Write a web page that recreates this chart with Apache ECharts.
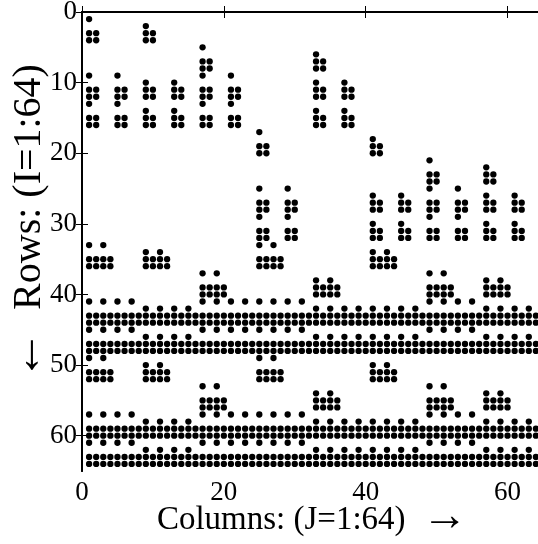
<!DOCTYPE html>
<html><head><meta charset="utf-8">
<script src="https://cdn.jsdelivr.net/npm/echarts@6/dist/echarts.min.js"></script>
<style>html,body{margin:0;padding:0;background:#fff;}#c{width:538px;height:544px;}</style>
</head><body><div id="c"></div>
<script>
// Tick labels
const xTicks = [0, 20, 40, 60];
const yTicks = [0, 10, 20, 30, 40, 50, 60];

// Rows that share the same set of nonzero columns (row indices I)
const rowGroups = [
  [1], [2], [3, 4],
  [5], [6], [7, 8],
  [9, 13], [10, 14], [11, 12, 15, 16],
  [17], [18], [19, 20],
  [21], [22], [23, 24],
  [25, 29], [26, 30], [27, 28, 31, 32],
  [33, 49], [34, 50], [35, 36, 51, 52],
  [37, 53], [38, 54], [39, 40, 55, 56],
  [41, 45, 57, 61], [42, 46, 58, 62],
  [43, 44, 47, 48, 59, 60, 63, 64]
];
// Nonzero columns (J) for each row group above
const colGroups = [
  [1], [9], [1, 2, 9, 10],
  [17], [33], [17, 18, 33, 34],
  [1, 5, 17, 21], [9, 13, 33, 37], [1, 2, 5, 6, 9, 10, 13, 14, 17, 18, 21, 22, 33, 34, 37, 38],
  [25], [41], [25, 26, 41, 42],
  [49], [57], [49, 50, 57, 58],
  [25, 29, 49, 53], [41, 45, 57, 61], [25, 26, 29, 30, 41, 42, 45, 46, 49, 50, 53, 54, 57, 58, 61, 62],
  [1, 3, 25, 27], [9, 11, 41, 43], [1, 2, 3, 4, 9, 10, 11, 12, 25, 26, 27, 28, 41, 42, 43, 44],
  [17, 19, 49, 51], [33, 35, 57, 59], [17, 18, 19, 20, 33, 34, 35, 36, 49, 50, 51, 52, 57, 58, 59, 60],
  [1, 3, 5, 7, 17, 19, 21, 23, 25, 27, 29, 31, 49, 51, 53, 55],
  [9, 11, 13, 15, 33, 35, 37, 39, 41, 43, 45, 47, 57, 59, 61, 63],
  [1, 2, 3, 4, 5, 6, 7, 8, 9, 10, 11, 12, 13, 14, 15, 16, 17, 18, 19, 20, 21, 22, 23, 24, 25, 26, 27, 28, 29, 30, 31, 32,
   33, 34, 35, 36, 37, 38, 39, 40, 41, 42, 43, 44, 45, 46, 47, 48, 49, 50, 51, 52, 53, 54, 55, 56, 57, 58, 59, 60, 61, 62, 63, 64]
];

const points = [];
rowGroups.forEach((rows, g) => rows.forEach(r => colGroups[g].forEach(c => points.push([c, r]))));

const font = 'Liberation Serif';
const lineStyle = { color: '#000', width: 2 };
const mkTick = vals => ({ inside: true, length: 6, customValues: vals, lineStyle: { color: '#000', width: 1 } });

const chart = echarts.init(document.getElementById('c'), null, { renderer: 'canvas' });
chart.setOption({
  animation: false,
  backgroundColor: '#fff',
  grid: { left: 82, top: 12, right: -5, bottom: 73, containLabel: false, outerBoundsMode: 'none' },
  xAxis: [
    {
      type: 'value', min: 0, max: 65, interval: 20, position: 'bottom',
      axisLine: { show: true, lineStyle: lineStyle },
      axisTick: mkTick(xTicks),
      splitLine: { show: false },
      axisLabel: { fontFamily: font, fontSize: 27, color: '#000', margin: 8, customValues: xTicks,
        formatter: v => xTicks.includes(v) ? String(v) : '' },
      name: 'Columns: (J=1:64)  {a|\u2192}', nameLocation: 'middle', nameGap: 32, nameMoveOverlap: false,
      nameTextStyle: { fontFamily: font, fontSize: 33, lineHeight: 34, color: '#000',
        rich: { a: { fontFamily: font, fontSize: 46, lineHeight: 34, color: '#000', padding: [0, 0, 4, 0] } } }
    },
    {
      type: 'value', min: 0, max: 65, interval: 20, position: 'top',
      axisLine: { show: true, lineStyle: lineStyle },
      axisTick: mkTick(xTicks), axisLabel: { show: false }, splitLine: { show: false }
    }
  ],
  yAxis: [
    {
      type: 'value', min: 0, max: 65, interval: 10, inverse: true, position: 'left',
      axisLine: { show: true, lineStyle: lineStyle },
      axisTick: mkTick(yTicks),
      splitLine: { show: false },
      axisLabel: { fontFamily: font, fontSize: 27, color: '#000', margin: 5, customValues: yTicks,
        formatter: v => yTicks.includes(v) ? String(v) : '' }
    },
    {
      type: 'value', min: 0, max: 65, interval: 10, inverse: true, position: 'right',
      axisLine: { show: true, lineStyle: lineStyle },
      axisTick: mkTick(yTicks), axisLabel: { show: false }, splitLine: { show: false }
    }
  ],
  graphic: [{
    type: 'text', x: 29, y: 222, rotation: Math.PI / 2, silent: true,
    style: {
      text: '{a|\u2190}  Rows: (I=1:64)', align: 'center', verticalAlign: 'middle',
      fontFamily: font, fontSize: 40, lineHeight: 40, fill: '#000',
      rich: { a: { fontFamily: font, fontSize: 50, lineHeight: 40, fill: '#000', padding: [0, 0, 4, 0] } }
    }
  }],
  series: [{
    type: 'scatter', xAxisIndex: 0, yAxisIndex: 0, data: points,
    symbol: 'circle', symbolSize: 6.3, itemStyle: { color: '#000', opacity: 1 }, silent: true
  }]
});
</script></body></html>
